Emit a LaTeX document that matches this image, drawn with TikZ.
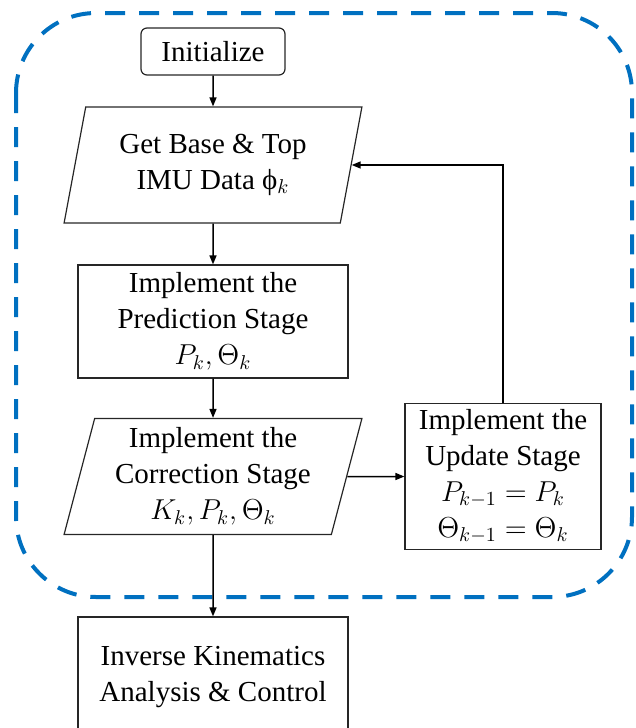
\documentclass[tikz,border=0pt]{standalone}
\usepackage{fontspec}
\setmainfont{Liberation Serif}
\newfontfamily\blockfont{Liberation Serif}
\usetikzlibrary{shapes.geometric,arrows.meta}
\definecolor{frameblue}{HTML}{0070C0}
\begin{document}
\begin{tikzpicture}[x=0.5pt,y=-0.5pt,
  every node/.style={font=\blockfont\fontsize{14.5}{18}\selectfont, align=center, inner sep=0pt},
  box/.style={draw=black!85, line width=0.6pt, rectangle},
  iobox/.style={draw=black!85, line width=0.6pt, trapezium,
    trapezium left angle=75.5, trapezium right angle=104.5,
    trapezium stretches=true, minimum width=149pt, minimum height=58pt},
  flow/.style={-{Triangle[length=4.5pt,width=3.5pt]}, line width=0.75pt},
]
\useasboundingbox (0,0) rectangle (636,728);
\clip (0,0) rectangle (636,728);

% dashed frame around the estimation loop
\draw[frameblue, line width=2pt, dash pattern=on 10pt off 7pt, rounded corners=40pt]
  (16,13) rectangle (632,597);

% flowchart blocks
\node[box, rounded corners=3pt, minimum width=72pt, minimum height=23.5pt] (init) at (213,51.5) {Initialize};
\node[iobox] (imu) at (213,165) {Get Base \& Top\\IMU Data ϕ$_k$};
\node[box, minimum width=135pt, minimum height=56.5pt] (pred) at (213,321.5)
  {Implement the\\Prediction Stage\\$P_k,\Theta_k$};
\node[iobox] (corr) at (213,476.5) {Implement the\\Correction Stage\\$K_k,P_k,\Theta_k$};
\node[box, minimum width=98pt, minimum height=73pt] (upd) at (503,476.5)
  {Implement the\\Update Stage\\$P_{k-1}=P_k$\\$\Theta_{k-1}=\Theta_k$};
\node[box, minimum width=135pt, minimum height=60pt] (ik) at (213,677)
  {Inverse Kinematics\\Analysis \& Control};

% connectors
\draw[flow] (init) -- (imu);
\draw[flow] (imu) -- (pred);
\draw[flow] (pred) -- (corr);
\draw[flow] (corr) -- (ik);
\draw[flow] (corr.east) -- (upd.west);
\draw[flow] (upd.north) |- (imu.east);
\end{tikzpicture}
\end{document}
